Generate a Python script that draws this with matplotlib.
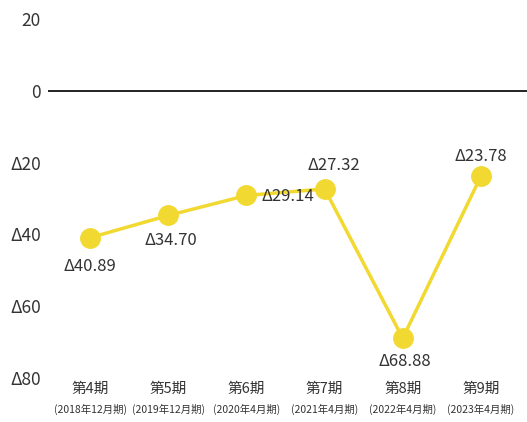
import matplotlib.pyplot as plt

plt.rcParams['font.family'] = ['Noto Sans CJK JP', 'DejaVu Sans']

periods = ["第4期", "第5期", "第6期", "第7期", "第8期", "第9期"]
sub_labels = ["(2018年12月期)", "(2019年12月期)", "(2020年4月期)",
              "(2021年4月期)", "(2022年4月期)", "(2023年4月期)"]
values = [-40.89, -34.70, -29.14, -27.32, -68.88, -23.78]
y_ticks = [20, 0, -20, -40, -60, -80]
y_tick_labels = ["20", "0", "Δ20", "Δ40", "Δ60", "Δ80"]

# label offsets in points (dx, dy) for each data label
label_offsets = [(0, -21), (2, -18), (30, -1), (6.5, 17), (1.5, -16.5), (0, 14.5)]

yellow = "#F2D932"
text_color = "#333333"

fig = plt.figure(figsize=(5.27, 4.22), dpi=100)
ax = fig.add_axes([0.091, 0.104, 0.909, 0.851])

x = list(range(len(values)))
ax.axhline(0, color="#111111", lw=1.3, zorder=1)
ax.plot(x, values, color=yellow, lw=2.5, marker="o", markersize=14,
        markerfacecolor=yellow, markeredgecolor=yellow, zorder=3)

for i, v in enumerate(values):
    dx, dy = label_offsets[i]
    ax.annotate("Δ%.2f" % abs(v), (i, v), xytext=(dx, dy),
                textcoords="offset points", ha="center", va="center",
                fontsize=12, color=text_color)

ax.set_xlim(-0.54, 5.59)
ax.set_ylim(-80, 20)
ax.set_yticks(y_ticks)
ax.set_yticklabels(y_tick_labels, fontsize=12.5, color=text_color)
ax.tick_params(axis="y", length=0, pad=5)
ax.set_xticks([])
for s in ax.spines.values():
    s.set_visible(False)

trans = ax.get_xaxis_transform()
for i, (p, s) in enumerate(zip(periods, sub_labels)):
    ax.text(i, -0.03, p, transform=trans, ha="center", va="center",
            fontsize=10.5, color=text_color)
    ax.text(i, -0.088, s, transform=trans, ha="center", va="center",
            fontsize=7.5, color=text_color)

fig.savefig("out.png", dpi=100)
